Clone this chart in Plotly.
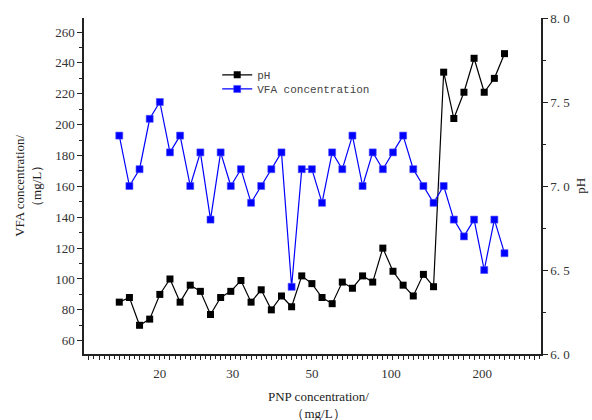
import plotly.graph_objects as go

# sample index along the PNP axis (evenly spaced samples)
idx = list(range(39))

# black series (legend "pH"), read on the left axis
ph_series = [85, 88, 70, 74, 90, 100, 85, 96, 92, 77,
             88, 92, 99, 85, 93, 80, 89, 82, 102, 97,
             88, 84, 98, 94, 102, 98, 120, 105, 96, 89,
             103, 95, 234, 204, 221, 243, 221, 230, 246]

# blue series (legend "VFA concentration"), read on the right axis
vfa_series = [7.3, 7.0, 7.1, 7.4, 7.5, 7.2, 7.3, 7.0, 7.2, 6.8,
              7.2, 7.0, 7.1, 6.9, 7.0, 7.1, 7.2, 6.4, 7.1, 7.1,
              6.9, 7.2, 7.1, 7.3, 7.0, 7.2, 7.1, 7.2, 7.3, 7.1,
              7.0, 6.9, 7.0, 6.8, 6.7, 6.8, 6.5, 6.8, 6.6]

x_tick_pos = [4.0, 11.2, 19.0, 26.8, 35.8]
x_tick_text = ["20", "30", "50", "100", "200"]
left_ticks = [60, 80, 100, 120, 140, 160, 180, 200, 220, 240, 260]
right_ticks = [6.0, 6.5, 7.0, 7.5, 8.0]
right_tick_text = ["6. 0", "6. 5", "7. 0", "7. 5", "8. 0"]

SERIF = "Liberation Serif, Times New Roman, serif"
MONO = "Liberation Mono, Courier New, monospace"
AX = "#222222"

fig = go.Figure()
fig.add_trace(go.Scatter(
    x=idx, y=ph_series, name="pH", mode="lines+markers",
    line=dict(color="black", width=1.2),
    marker=dict(symbol="square", size=7, color="black"),
    yaxis="y", legend="legend"))
fig.add_trace(go.Scatter(
    x=idx, y=vfa_series, name="VFA concentration", mode="lines+markers",
    line=dict(color="#0000ff", width=1.2),
    marker=dict(symbol="square", size=7, color="#0000ff",
                line=dict(color="#4d4dff", width=0.6)),
    yaxis="y2", legend="legend2"))

legend_common = dict(xanchor="left", yanchor="top", bgcolor="rgba(0,0,0,0)",
                     borderwidth=0, itemwidth=30,
                     font=dict(family=MONO, size=11, color="#444444"))

fig.update_layout(
    width=592, height=420,
    margin=dict(l=84, r=51, t=18, b=66),
    paper_bgcolor="white", plot_bgcolor="white",
    showlegend=True,
    legend=dict(x=0.2915, y=0.874, **legend_common),
    legend2=dict(x=0.2915, y=0.832, **legend_common),
    xaxis=dict(range=[-3.48, 41.6], tickmode="array", tickvals=x_tick_pos,
               ticktext=x_tick_text, ticks="", showgrid=False, zeroline=False,
               showline=True, linecolor=AX, linewidth=1.5, mirror=False,
               ticklabelstandoff=7,
               tickfont=dict(family=SERIF, size=13, color="#333333"),
               minor=dict(tickmode="linear", tick0=0, dtick=0.5, ticks="outside",
                          ticklen=3, tickwidth=1, tickcolor=AX, showgrid=False)),
    xaxis2=dict(range=[-3.48, 41.6], overlaying="x", side="bottom",
                tickmode="linear", tick0=0, dtick=1, ticks="outside", ticklen=5,
                tickwidth=1, tickcolor=AX, showticklabels=False, showgrid=False,
                zeroline=False, showline=False),
    yaxis=dict(range=[51.4, 269.1], tickmode="array", tickvals=left_ticks,
               ticks="outside", ticklen=5, tickwidth=1, tickcolor=AX,
               showgrid=False, zeroline=False, showline=True, linecolor=AX,
               linewidth=1.5, tickfont=dict(family=SERIF, size=13, color="#333333"),
               minor=dict(tickmode="linear", tick0=50, dtick=10, ticks="outside",
                          ticklen=3, tickwidth=1, tickcolor=AX, showgrid=False)),
    yaxis2=dict(range=[6.0, 8.0], overlaying="y", side="right", tickmode="array",
                tickvals=right_ticks, ticktext=right_tick_text, ticks="outside",
                ticklen=5, tickwidth=1, tickcolor=AX, showgrid=False,
                zeroline=False, showline=True, linecolor=AX, linewidth=1.5,
                tickfont=dict(family=SERIF, size=13, color="#333333"),
                minor=dict(tickmode="linear", tick0=6.0, dtick=0.25, ticks="outside",
                           ticklen=3, tickwidth=1, tickcolor=AX, showgrid=False)),
)

# dummy trace so the tick-only overlay axis is drawn
fig.add_trace(go.Scatter(x=[0], y=[100], xaxis="x2", yaxis="y", mode="markers",
                         marker=dict(opacity=0), showlegend=False, hoverinfo="skip"))

fig.add_annotation(text="PNP concentration/<br>（mg/L）", xref="paper", yref="paper",
                   x=0.513, y=0, xanchor="center", yanchor="top", yshift=-33,
                   showarrow=False, font=dict(family=SERIF, size=13, color="#222222"))
fig.add_annotation(text="VFA concentration/<br>（mg/L）", xref="paper", yref="paper",
                   x=-0.123, y=0.5, xanchor="center", yanchor="middle", textangle=-90,
                   showarrow=False, font=dict(family=SERIF, size=13, color="#222222"))
fig.add_annotation(text="pH", xref="paper", yref="paper",
                   x=1.085, y=0.5, xanchor="center", yanchor="middle", textangle=-90,
                   showarrow=False, font=dict(family=SERIF, size=13, color="#222222"))

fig.write_html("out.html")
